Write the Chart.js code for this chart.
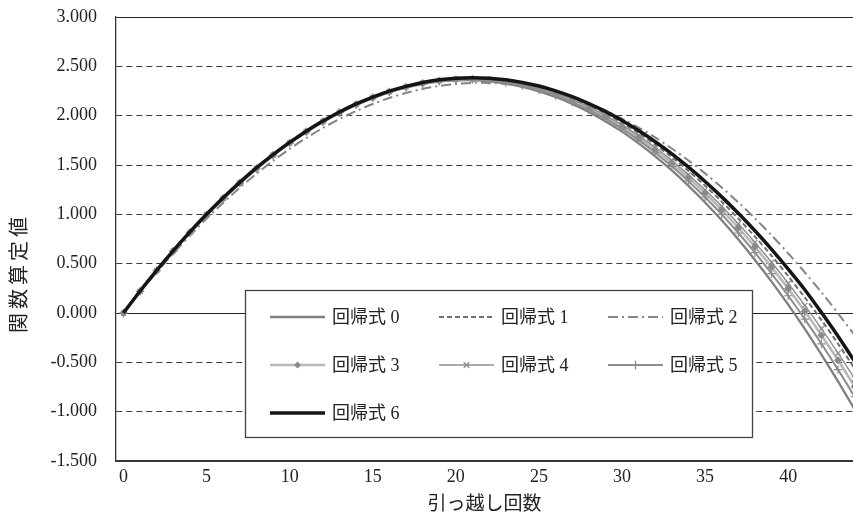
<!DOCTYPE html>
<html>
<head>
<meta charset="utf-8">
<script src="https://cdn.jsdelivr.net/npm/chart.js@4.4.1/dist/chart.umd.min.js"></script>
<style>
html,body{margin:0;padding:0;background:#fff;}
#wrap{position:relative;width:853px;height:516px;}
</style>
</head>
<body>
<div id="wrap"><canvas id="c" width="853" height="516"></canvas></div>
<script>
// ---- data ----
const xValues = [0,1,2,3,4,5,6,7,8,9,10,11,12,13,14,15,16,17,18,19,20,21,22,23,24,25,26,27,28,29,30,31,32,33,34,35,36,37,38,39,40,41,42,43,44];
const xTickValues = [0,5,10,15,20,25,30,35,40];
const yTickValues = [-1.5,-1,-0.5,0,0.5,1,1.5,2,2.5,3];
const seriesNames = ['回帰式 0','回帰式 1','回帰式 2','回帰式 3','回帰式 4','回帰式 5','回帰式 6'];
const xTitle = '引っ越し回数';
const yTitle = '関数算定値';

const series0 = [0,0.218,0.427,0.625,0.813,0.990,1.157,1.314,1.459,1.595,1.719,1.833,1.936,2.028,2.108,2.178,2.237,2.284,2.320,2.344,2.357,2.359,2.348,2.326,2.293,2.247,2.189,2.120,2.038,1.944,1.838,1.719,1.588,1.445,1.289,1.120,0.939,0.745,0.538,0.318,0.085,-0.161,-0.421,-0.693,-0.979];
const series1 = [0,0.222,0.432,0.631,0.820,0.998,1.165,1.322,1.468,1.603,1.727,1.841,1.943,2.035,2.117,2.187,2.247,2.294,2.333,2.359,2.375,2.380,2.374,2.356,2.328,2.289,2.239,2.178,2.106,2.023,1.928,1.823,1.706,1.579,1.440,1.290,1.129,0.957,0.774,0.580,0.373,0.157,-0.072,-0.312,-0.563];
const series2 = [0,0.211,0.413,0.604,0.786,0.957,1.118,1.270,1.411,1.542,1.663,1.774,1.875,1.966,2.047,2.118,2.179,2.230,2.271,2.301,2.322,2.332,2.332,2.322,2.303,2.273,2.232,2.182,2.122,2.051,1.970,1.880,1.779,1.667,1.546,1.415,1.273,1.121,0.959,0.787,0.605,0.412,0.210,-0.003,-0.227];
const series3 = [0,0.220,0.430,0.629,0.817,0.995,1.162,1.319,1.464,1.600,1.724,1.838,1.940,2.032,2.113,2.183,2.242,2.290,2.327,2.353,2.367,2.371,2.362,2.343,2.313,2.271,2.217,2.153,2.076,1.989,1.889,1.778,1.655,1.521,1.374,1.216,1.046,0.864,0.671,0.465,0.247,0.018,-0.225,-0.479,-0.745];
const series4 = [0,0.221,0.431,0.630,0.818,0.996,1.163,1.320,1.466,1.601,1.725,1.839,1.941,2.033,2.115,2.185,2.244,2.292,2.330,2.355,2.370,2.375,2.367,2.349,2.319,2.279,2.227,2.164,2.089,2.003,1.906,1.797,1.677,1.546,1.402,1.248,1.082,0.904,0.715,0.514,0.301,0.077,-0.159,-0.407,-0.667];
const series5 = [0,0.219,0.428,0.627,0.815,0.993,1.160,1.317,1.462,1.598,1.722,1.836,1.938,2.030,2.111,2.181,2.240,2.287,2.324,2.349,2.363,2.366,2.356,2.336,2.304,2.260,2.205,2.138,2.059,1.969,1.866,1.752,1.625,1.487,1.336,1.173,0.999,0.811,0.612,0.400,0.175,-0.062,-0.312,-0.574,-0.849];
const series6 = [0,0.223,0.433,0.633,0.822,1.000,1.167,1.324,1.470,1.605,1.729,1.843,1.945,2.037,2.119,2.189,2.249,2.297,2.336,2.363,2.379,2.385,2.380,2.364,2.337,2.300,2.252,2.193,2.123,2.043,1.951,1.849,1.736,1.613,1.478,1.333,1.177,1.010,0.833,0.645,0.445,0.236,0.005,-0.235,-0.490];

// ---- styles ----
const FONT = "'Liberation Serif', 'Noto Sans CJK JP', serif";
const seriesStyles = [
  {color:'#7f7f7f', width:2.3, dash:[]},
  {color:'#6f6f6f', width:2,   dash:[5,3]},
  {color:'#858585', width:2,   dash:[10,4,2,4]},
  {color:'#b8b8b8', width:2.6, dash:[], pointStyle:'rectRot',  pointColor:'#8a8a8a', r:3.2},
  {color:'#8e8e8e', width:1.4, dash:[], pointStyle:'crossRot', pointColor:'#8a8a8a', r:3.6},
  {color:'#8c8c8c', width:2,   dash:[], pointStyle:'cross',    pointColor:'#8c8c8c', r:4.2},
  {color:'#151515', width:3.5, dash:[]}
];
const allSeries = [series0,series1,series2,series3,series4,series5,series6];

const datasets = allSeries.map((vals,i)=>{
  const st = seriesStyles[i];
  return {
    label: seriesNames[i],
    data: xValues.map((x,k)=>({x:x, y:vals[k]})),
    borderColor: st.color,
    borderWidth: st.width,
    borderDash: st.dash,
    backgroundColor: st.pointColor || st.color,
    pointStyle: st.pointStyle || 'circle',
    pointRadius: st.pointStyle ? st.r : 0,
    pointHoverRadius: 0,
    pointBorderColor: st.pointColor || st.color,
    pointBackgroundColor: st.pointColor || st.color,
    pointBorderWidth: 1.2,
    tension: 0.3,
    fill: false,
    order: 6 - i
  };
});

function isSolidTick(v){ return v === 0 || v === 3; }

// custom legend and y title
const legendLayout = {x:245, y:290, w:507, h:147, cols:[270,439,608], rows:[317,365,413], len:55, gap:62};

function drawMarker(ctx, style, x, y, r, color){
  ctx.save();
  ctx.setLineDash([]);
  ctx.strokeStyle = color; ctx.fillStyle = color; ctx.lineWidth = 1.3;
  ctx.beginPath();
  if (style === 'rectRot'){
    ctx.moveTo(x, y-r); ctx.lineTo(x+r, y); ctx.lineTo(x, y+r); ctx.lineTo(x-r, y); ctx.closePath();
    ctx.fill();
  } else if (style === 'crossRot'){
    const d = r*0.72;
    ctx.moveTo(x-d,y-d); ctx.lineTo(x+d,y+d); ctx.moveTo(x+d,y-d); ctx.lineTo(x-d,y+d); ctx.stroke();
  } else if (style === 'cross'){
    ctx.moveTo(x-r,y); ctx.lineTo(x+r,y); ctx.moveTo(x,y-r); ctx.lineTo(x,y+r); ctx.stroke();
  }
  ctx.restore();
}

const overlayPlugin = {
  id:'overlay',
  afterDraw(chart){
    const ctx = chart.ctx;
    const L = legendLayout;
    ctx.save();
    ctx.fillStyle = '#ffffff';
    ctx.fillRect(L.x, L.y, L.w, L.h);
    ctx.setLineDash([]);
    ctx.strokeStyle = '#444444';
    ctx.lineWidth = 1.3;
    ctx.strokeRect(L.x+0.5, L.y+0.5, L.w, L.h);
    chart.data.datasets.forEach((ds,i)=>{
      const col = i % 3, row = Math.floor(i/3);
      const x0 = L.cols[col], y = L.rows[row];
      ctx.save();
      ctx.setLineDash(ds.borderDash || []);
      ctx.strokeStyle = ds.borderColor;
      ctx.lineWidth = ds.borderWidth;
      ctx.beginPath(); ctx.moveTo(x0, y); ctx.lineTo(x0+L.len, y); ctx.stroke();
      ctx.restore();
      if (ds.pointRadius > 0) drawMarker(ctx, ds.pointStyle, x0+L.len/2, y, ds.pointRadius+0.3, ds.pointBorderColor);
      ctx.fillStyle = '#222222';
      ctx.font = '18px ' + FONT;
      ctx.textBaseline = 'middle';
      ctx.textAlign = 'left';
      ctx.fillText(ds.label, x0 + L.gap, y + 1);
    });
    // y axis title
    ctx.translate(21, 275);
    ctx.rotate(-Math.PI/2);
    ctx.fillStyle = '#222222';
    ctx.font = '20px ' + FONT;
    try { ctx.letterSpacing = '4px'; } catch(e) {}
    ctx.textAlign = 'center';
    ctx.textBaseline = 'middle';
    ctx.fillText(yTitle, 2, 0);
    ctx.restore();
  }
};

new Chart(document.getElementById('c'), {
  type:'line',
  data:{datasets:datasets},
  plugins:[overlayPlugin],
  options:{
    responsive:false,
    animation:false,
    devicePixelRatio:1,
    layout:{autoPadding:false, padding:{top:17,left:0,right:0,bottom:0}},
    plugins:{legend:{display:false}, tooltip:{enabled:false}},
    scales:{
      x:{
        type:'linear', min:-0.45, max:43.9,
        afterBuildTicks: s => { s.ticks = xTickValues.map(v=>({value:v})); },
        afterFit: s => { s.height = 55; s.paddingLeft = 0; s.paddingRight = 0; },
        grid:{display:false, drawTicks:false},
        border:{display:true, color:'#333333', width:1.3},
        ticks:{padding:5, autoSkip:false, maxRotation:0, color:'#222222', font:{family:FONT, size:18}},
        title:{display:true, text:xTitle, color:'#222222', font:{family:FONT, size:19}, padding:{top:0, bottom:0}}
      },
      y:{
        type:'linear', min:-1.5, max:3,
        afterBuildTicks: s => { s.ticks = yTickValues.map(v=>({value:v})); },
        afterFit: s => { s.width = 116; s.paddingTop = 0; s.paddingBottom = 0; },
        grid:{
          drawTicks:false,
          lineWidth:1,
          color: c => (c.tick && isSolidTick(c.tick.value)) ? '#222222' : '#3c3c3c'
        },
        border:{display:true, color:'#333333', width:1.3,
          dash: c => (!c.tick || isSolidTick(c.tick.value) || c.tick.value === -1.5) ? [] : [6,4]},
        ticks:{padding:19, color:'#222222', font:{family:FONT, size:18}, callback: v => Number(v).toFixed(3)}
      }
    }
  }
});
</script>
</body>
</html>
